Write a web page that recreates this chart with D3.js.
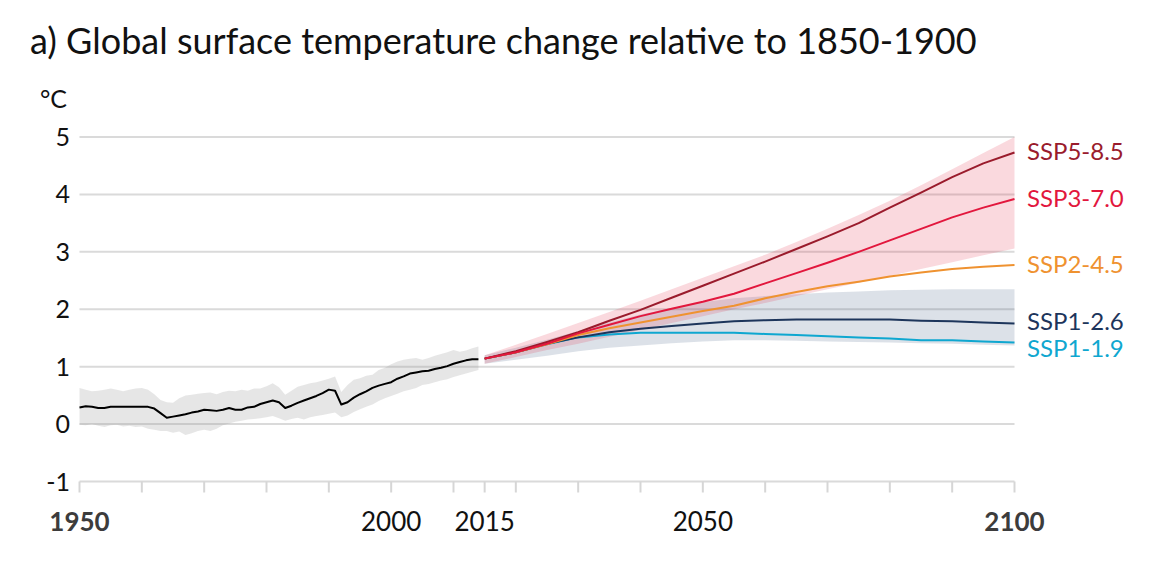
<!DOCTYPE html>
<html>
<head>
<meta charset="utf-8">
<title>Global surface temperature change</title>
<script src="https://cdn.jsdelivr.net/npm/d3@7"></script>
<style>
    html, body { margin: 0; padding: 0; background: #fff; }
    svg { display: block; font-family: Lato, "Open Sans", sans-serif; }
</style>
</head>
<body>
<div id="chart"></div>
<script>
// Historical simulations, 1950-2014 (annual)
const histStart = 1950;
const histMean = [
    0.29, 0.31, 0.30, 0.28, 0.28, 0.30, 0.30, 0.30, 0.30, 0.30,
    0.30, 0.30, 0.27, 0.19, 0.11, 0.13, 0.15, 0.17, 0.20, 0.22,
    0.25, 0.24, 0.23, 0.25, 0.28, 0.25, 0.25, 0.29, 0.30, 0.35,
    0.38, 0.41, 0.38, 0.28, 0.32, 0.37, 0.41, 0.45, 0.49, 0.54,
    0.60, 0.58, 0.34, 0.38, 0.46, 0.52, 0.57, 0.63, 0.67, 0.70,
    0.73, 0.79, 0.83, 0.88, 0.90, 0.92, 0.93, 0.96, 0.98, 1.01,
    1.05, 1.08, 1.11, 1.13, 1.13
];
const histHigh = [
    0.63, 0.60, 0.57, 0.58, 0.60, 0.62, 0.60, 0.57, 0.60, 0.62,
    0.63, 0.60, 0.52, 0.42, 0.38, 0.37, 0.45, 0.50, 0.51, 0.53,
    0.54, 0.55, 0.52, 0.56, 0.58, 0.57, 0.60, 0.58, 0.62, 0.62,
    0.66, 0.71, 0.64, 0.51, 0.58, 0.65, 0.68, 0.71, 0.73, 0.76,
    0.79, 0.83, 0.56, 0.68, 0.77, 0.80, 0.84, 0.86, 0.94, 0.98,
    1.04, 1.09, 1.12, 1.14, 1.15, 1.12, 1.15, 1.19, 1.22, 1.25,
    1.29, 1.26, 1.28, 1.32, 1.35
];
const histLow = [
    -0.01, -0.02, 0.00, -0.03, -0.05, -0.02, -0.01, -0.04, -0.03, -0.05,
    -0.04, -0.08, -0.10, -0.12, -0.12, -0.15, -0.13, -0.19, -0.16, -0.12,
    -0.10, -0.12, -0.08, -0.02, 0.01, 0.04, 0.06, 0.08, 0.09, 0.10,
    0.12, 0.14, 0.10, 0.06, 0.09, 0.11, 0.08, 0.12, 0.14, 0.16,
    0.18, 0.20, 0.12, 0.15, 0.21, 0.26, 0.30, 0.34, 0.40, 0.45,
    0.49, 0.53, 0.57, 0.60, 0.63, 0.68, 0.70, 0.73, 0.76, 0.78,
    0.82, 0.85, 0.88, 0.91, 0.94
];

// Scenario projections, 2015-2100 (every 5 years)
const projYears = [2015, 2020, 2025, 2030, 2035, 2040, 2045, 2050, 2055, 2060, 2065, 2070, 2075, 2080, 2085, 2090, 2095, 2100];
const ssp119 = [1.14, 1.25, 1.39, 1.51, 1.56, 1.59, 1.59, 1.59, 1.59, 1.57, 1.55, 1.53, 1.51, 1.49, 1.46, 1.46, 1.44, 1.42];
const ssp126 = [1.14, 1.25, 1.40, 1.51, 1.60, 1.66, 1.71, 1.75, 1.79, 1.81, 1.82, 1.82, 1.82, 1.82, 1.80, 1.79, 1.77, 1.75];
const ssp245 = [1.14, 1.25, 1.39, 1.55, 1.67, 1.77, 1.87, 1.97, 2.06, 2.19, 2.30, 2.40, 2.48, 2.57, 2.64, 2.70, 2.74, 2.77];
const ssp370 = [1.14, 1.25, 1.40, 1.58, 1.73, 1.88, 2.01, 2.13, 2.27, 2.45, 2.63, 2.81, 3.00, 3.20, 3.40, 3.60, 3.77, 3.92];
const ssp585 = [1.14, 1.27, 1.43, 1.60, 1.80, 1.99, 2.20, 2.41, 2.62, 2.83, 3.05, 3.27, 3.50, 3.77, 4.03, 4.30, 4.54, 4.73];
// Very likely ranges (shaded) for SSP1-2.6 and SSP3-7.0
const ssp126Low  = [1.05, 1.12, 1.19, 1.27, 1.33, 1.37, 1.41, 1.44, 1.46, 1.46, 1.45, 1.44, 1.43, 1.42, 1.41, 1.40, 1.38, 1.37];
const ssp126High = [1.20, 1.33, 1.47, 1.62, 1.77, 1.91, 2.02, 2.12, 2.19, 2.23, 2.26, 2.29, 2.31, 2.33, 2.34, 2.35, 2.35, 2.35];
const ssp370Low  = [1.05, 1.17, 1.29, 1.40, 1.52, 1.64, 1.76, 1.88, 2.00, 2.11, 2.23, 2.35, 2.46, 2.58, 2.70, 2.82, 2.94, 3.06];
const ssp370High = [1.20, 1.38, 1.57, 1.76, 1.95, 2.15, 2.35, 2.55, 2.75, 2.95, 3.17, 3.40, 3.64, 3.89, 4.16, 4.44, 4.72, 5.00];

const scenarioNames  = ['SSP1-1.9', 'SSP1-2.6', 'SSP2-4.5', 'SSP5-8.5', 'SSP3-7.0'];
const scenarioValues = [ssp119, ssp126, ssp245, ssp585, ssp370];
const scenarioColors = ['#0fa7d0', '#1d355b', '#ef9230', '#9a1b2c', '#e2173d'];
// label anchor (in °C) for each name, so labels don't collide
const scenarioLabelAt = [1.31, 1.78, 2.77, 4.75, 3.92];

// Axis ticks and labels
const yTicks = [-1, 0, 1, 2, 3, 4, 5];
const xTicks = [1950, 1960, 1970, 1980, 1990, 2000, 2010, 2015, 2020, 2030, 2040, 2050, 2060, 2070, 2080, 2090, 2100];
const xLabels = [1950, 2000, 2015, 2050, 2100];
const xLabelsBold = [1950, 2100];

const title = 'a) Global surface temperature change relative to 1850-1900';
const unit = '°C';

// Config
const width = 1163;
const height = 565;

const x = d3.scaleLinear().domain([1950, 2100]).range([79.5, 1014.5]);
const y = d3.scaleLinear().domain([-1, 5]).range([481.5, 137]);

const svg = d3.select('#chart')
    .append('svg')
    .attr('width', width)
    .attr('height', height)
    .attr('viewBox', `0 0 ${width} ${height}`);

// Title
svg.append('text')
    .attr('x', 30)
    .attr('y', 54)
    .attr('font-size', 36)
    .attr('fill', '#111')
    .text(title);

// Unit
svg.append('text')
    .attr('x', 40)
    .attr('y', 108)
    .attr('font-size', 25)
    .attr('fill', '#111')
    .text(unit);

// Gridlines
svg.append('g')
    .selectAll('line')
    .data(yTicks)
    .join('line')
    .attr('x1', x(1950))
    .attr('x2', x(2100))
    .attr('y1', d => y(d))
    .attr('y2', d => y(d))
    .attr('stroke', '#dadada')
    .attr('stroke-width', 2);

// Y labels
svg.append('g')
    .selectAll('text')
    .data(yTicks)
    .join('text')
    .attr('x', 70)
    .attr('y', d => y(d))
    .attr('dy', '0.36em')
    .attr('text-anchor', 'end')
    .attr('font-size', 25)
    .attr('fill', '#111')
    .text(d => d);

// X ticks
svg.append('g')
    .selectAll('line')
    .data(xTicks)
    .join('line')
    .attr('x1', d => x(d))
    .attr('x2', d => x(d))
    .attr('y1', y(-1))
    .attr('y2', y(-1) + 11)
    .attr('stroke', '#d6d6d6')
    .attr('stroke-width', 2);

// X labels
svg.append('g')
    .selectAll('text')
    .data(xLabels)
    .join('text')
    .attr('x', d => x(d))
    .attr('y', 531)
    .attr('text-anchor', 'middle')
    .attr('font-size', 26)
    .attr('font-weight', d => xLabelsBold.includes(d) ? 'bold' : 'normal')
    .attr('fill', d => xLabelsBold.includes(d) ? '#3c3c3c' : '#111')
    .text(d => d);

// Historical band and mean
const hist = histMean.map((v, i) => ({ year: histStart + i, mean: v, low: histLow[i], high: histHigh[i] }));

svg.append('path')
    .datum(hist)
    .attr('fill', 'rgba(150,150,150,0.24)')
    .attr('d', d3.area().x(d => x(d.year)).y0(d => y(d.low)).y1(d => y(d.high)));

svg.append('path')
    .datum(hist)
    .attr('fill', 'none')
    .attr('stroke', '#000')
    .attr('stroke-width', 2)
    .attr('stroke-linejoin', 'round')
    .attr('d', d3.line().x(d => x(d.year)).y(d => y(d.mean)));

// Projection bands
const band = d3.area()
    .x((d, i) => x(projYears[i]))
    .y0(d => y(d[0]))
    .y1(d => y(d[1]));

svg.append('path')
    .datum(ssp126Low.map((v, i) => [v, ssp126High[i]]))
    .attr('fill', 'rgba(40,70,110,0.16)')
    .attr('d', band);

svg.append('path')
    .datum(ssp370Low.map((v, i) => [v, ssp370High[i]]))
    .attr('fill', 'rgba(224,30,60,0.17)')
    .attr('d', band);

// Projection lines
const projLine = d3.line()
    .x((d, i) => x(projYears[i]))
    .y(d => y(d));

scenarioValues.forEach((vals, k) => {
    svg.append('path')
        .datum(vals)
        .attr('fill', 'none')
        .attr('stroke', scenarioColors[k])
        .attr('stroke-width', 2)
        .attr('stroke-linejoin', 'round')
        .attr('d', projLine);
});

// Scenario labels (right side)
scenarioNames.forEach((name, k) => {
    svg.append('text')
        .attr('x', 1027)
        .attr('y', y(scenarioLabelAt[k]))
        .attr('dy', '0.35em')
        .attr('font-size', 24)
        .attr('fill', scenarioColors[k])
        .text(name);
});
</script>
</body>
</html>
